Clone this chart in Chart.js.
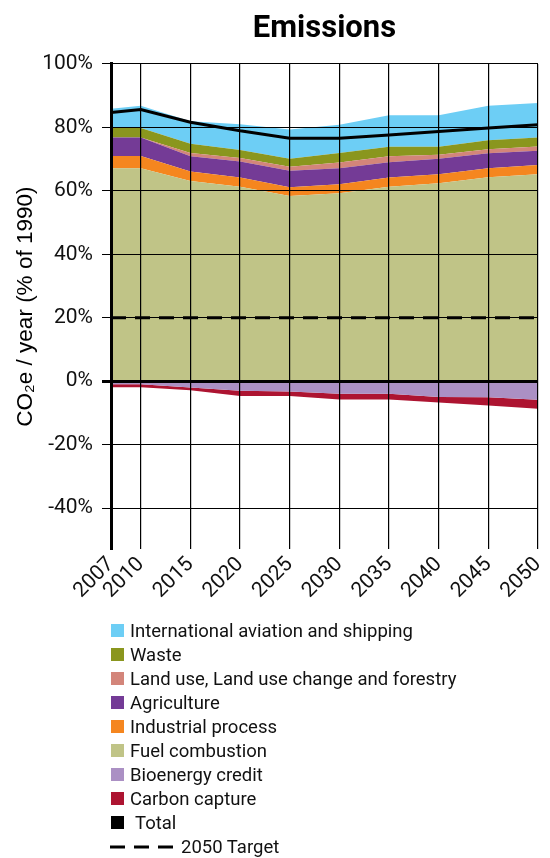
<!DOCTYPE html>
<html>
<head>
<meta charset="utf-8">
<script src="https://cdn.jsdelivr.net/npm/chart.js@4"></script>
<style>
  html, body { margin: 0; padding: 0; background: #fff; }
  #wrap { position: relative; width: 550px; height: 858px; }
  #legend { position: absolute; left: 0; top: 0; width: 550px; font-family: Roboto, sans-serif; font-size: 18.5px; color: #111; }
  .li { position: absolute; height: 24px; line-height: 24px; white-space: nowrap; }
  .sw { position: absolute; width: 13px; height: 13px; top: 5.5px; }
  .tx { position: absolute; top: 0; }
</style>
</head>
<body>
<div id="wrap">
  <canvas id="c" width="550" height="858"></canvas>
  <div id="legend"></div>
</div>
<script>
const years = [2007, 2010, 2015, 2020, 2025, 2030, 2035, 2040, 2045, 2050];
const yTicks = [-40, -20, 0, 20, 40, 60, 80, 100];

const fuelCombustion   = [67.1, 67.1, 63.1, 61.3, 58.4, 59.2, 61.3, 62.4, 64.3, 65.2];
const industrialProcess= [3.9, 3.9, 3.0, 2.9, 2.7, 2.9, 2.9, 2.8, 2.8, 2.9];
const agriculture      = [5.8, 5.8, 4.8, 5.0, 5.2, 5.0, 4.8, 4.9, 4.7, 4.5];
const landUse          = [0.0, 0.0, 1.0, 1.1, 1.3, 1.8, 1.9, 1.3, 1.3, 1.4];
const waste            = [3.0, 3.0, 2.9, 2.6, 2.5, 3.0, 3.0, 2.5, 2.8, 2.8];
const aviation         = [6.1, 7.0, 7.1, 8.1, 9.2, 8.9, 9.9, 9.9, 10.9, 10.9];
const bioenergyCredit  = [-0.95, -0.95, -2.0, -3.05, -3.3, -4.0, -4.0, -5.0, -5.05, -5.9];
const carbonCapture    = [-0.95, -0.95, -0.85, -1.65, -1.4, -1.8, -1.8, -1.75, -2.65, -2.8];
const total            = [84.7, 85.6, 81.6, 78.9, 76.6, 76.6, 77.6, 78.7, 79.8, 80.8];
const target2050       = [20, 20, 20, 20, 20, 20, 20, 20, 20, 20];

const C = {
  aviation: '#6dcef5', waste: '#8a961e', landUse: '#d3857a', agriculture: '#743b96',
  industrial: '#f5861f', fuel: '#c0c487', bio: '#ab90c4', ccs: '#ad1431'
};

function pts(arr) { return arr.map((v, i) => ({ x: years[i], y: v })); }
function area(label, arr, color, fill) {
  return { label, data: pts(arr), backgroundColor: color, borderColor: color, borderWidth: 0,
           pointRadius: 0, fill, tension: 0, stack: 'main', order: 0 };
}

const datasets = [
  area('Fuel combustion', fuelCombustion, C.fuel, 'origin'),
  area('Industrial process', industrialProcess, C.industrial, '-1'),
  area('Agriculture', agriculture, C.agriculture, '-1'),
  area('Land use, Land use change and forestry', landUse, C.landUse, '-1'),
  area('Waste', waste, C.waste, '-1'),
  area('International aviation and shipping', aviation, C.aviation, '-1'),
  area('Bioenergy credit', bioenergyCredit, C.bio, 'origin'),
  area('Carbon capture', carbonCapture, C.ccs, '-1'),
  { label: 'Total', data: pts(total), borderColor: '#000', backgroundColor: '#000', borderWidth: 3,
    pointRadius: 0, fill: false, tension: 0, stack: 'total', order: -1 },
  { label: '2050 Target', data: pts(target2050), borderColor: '#000', backgroundColor: '#000', borderWidth: 3,
    borderDash: [15, 9], pointRadius: 0, fill: false, tension: 0, stack: 'target', order: -2 }
];

const chart = new Chart(document.getElementById('c'), {
  type: 'line',
  data: { datasets },
  options: {
    responsive: false,
    animation: false,
    layout: { padding: { left: 8, right: 12, top: 0, bottom: 251.5 } },
    plugins: {
      legend: { display: false },
      tooltip: { enabled: false },
      title: {
        display: true, text: 'Emissions', fullSize: false, color: '#000',
        font: { family: 'Roboto', size: 31, weight: 'bold' },
        padding: { top: 11, bottom: 15.7 }
      }
    },
    scales: {
      x: {
        type: 'linear', min: 2007, max: 2050,
        afterBuildTicks: (s) => { s.ticks = years.map(v => ({ value: v })); },
        afterFit: (s) => { s.paddingRight = 0; },
        ticks: { color: '#111', font: { family: 'Roboto', size: 21 }, minRotation: 45, maxRotation: 45,
                 padding: 3, callback: (v) => String(v), autoSkip: false },
        grid: { display: true, drawOnChartArea: true, color: '#000', lineWidth: (ctx) => 1.2, drawTicks: false, z: 1 },
        border: { display: false }
      },
      y: {
        stacked: true, min: -53, max: 100,
        afterBuildTicks: (s) => { s.ticks = yTicks.map(v => ({ value: v })); },
        afterFit: (s) => { s.width = 103; },
        ticks: { color: '#111', font: { family: 'Roboto', size: 21 }, padding: 9,
                 callback: (v) => v + '%' },
        grid: { display: true, drawOnChartArea: true, color: '#000',
                lineWidth: (ctx) => (ctx.tick && ctx.tick.value === 0 ? 3 : 1), tickLength: 9, z: 1 },
        border: { display: true, color: '#000', width: 3, z: 2 },
        title: { display: true, text: 'CO\u2082e / year (% of 1990)', color: '#000',
                 font: { family: 'Liberation Sans', size: 22.5 }, padding: { top: 4, bottom: 0 } }
      }
    }
  }
});

// Legend (HTML, built from the chart's datasets)
const legendOrder = ['International aviation and shipping', 'Waste', 'Land use, Land use change and forestry',
  'Agriculture', 'Industrial process', 'Fuel combustion', 'Bioenergy credit', 'Carbon capture', 'Total', '2050 Target'];
const lg = document.getElementById('legend');
legendOrder.forEach((name, i) => {
  const ds = datasets.find(d => d.label === name);
  const row = document.createElement('div');
  row.className = 'li';
  row.style.left = '111px';
  row.style.top = (618.7 + 24 * i) + 'px';
  if (name === '2050 Target') {
    const cv = document.createElement('canvas');
    cv.width = 64; cv.height = 6;
    cv.style.position = 'absolute'; cv.style.left = '-1px'; cv.style.top = '9px';
    const x = cv.getContext('2d');
    x.strokeStyle = '#000'; x.lineWidth = 3; x.setLineDash([15, 9]);
    x.beginPath(); x.moveTo(0, 3); x.lineTo(63, 3); x.stroke();
    row.appendChild(cv);
    const t = document.createElement('span'); t.className = 'tx'; t.style.left = '70px'; t.textContent = name;
    row.appendChild(t);
  } else {
    const sw = document.createElement('span'); sw.className = 'sw'; sw.style.left = '0px';
    sw.style.background = ds.backgroundColor;
    row.appendChild(sw);
    const t = document.createElement('span'); t.className = 'tx';
    t.style.left = (name === 'Total' ? 24 : 19) + 'px'; t.textContent = name;
    row.appendChild(t);
  }
  lg.appendChild(row);
});
</script>
</body>
</html>
